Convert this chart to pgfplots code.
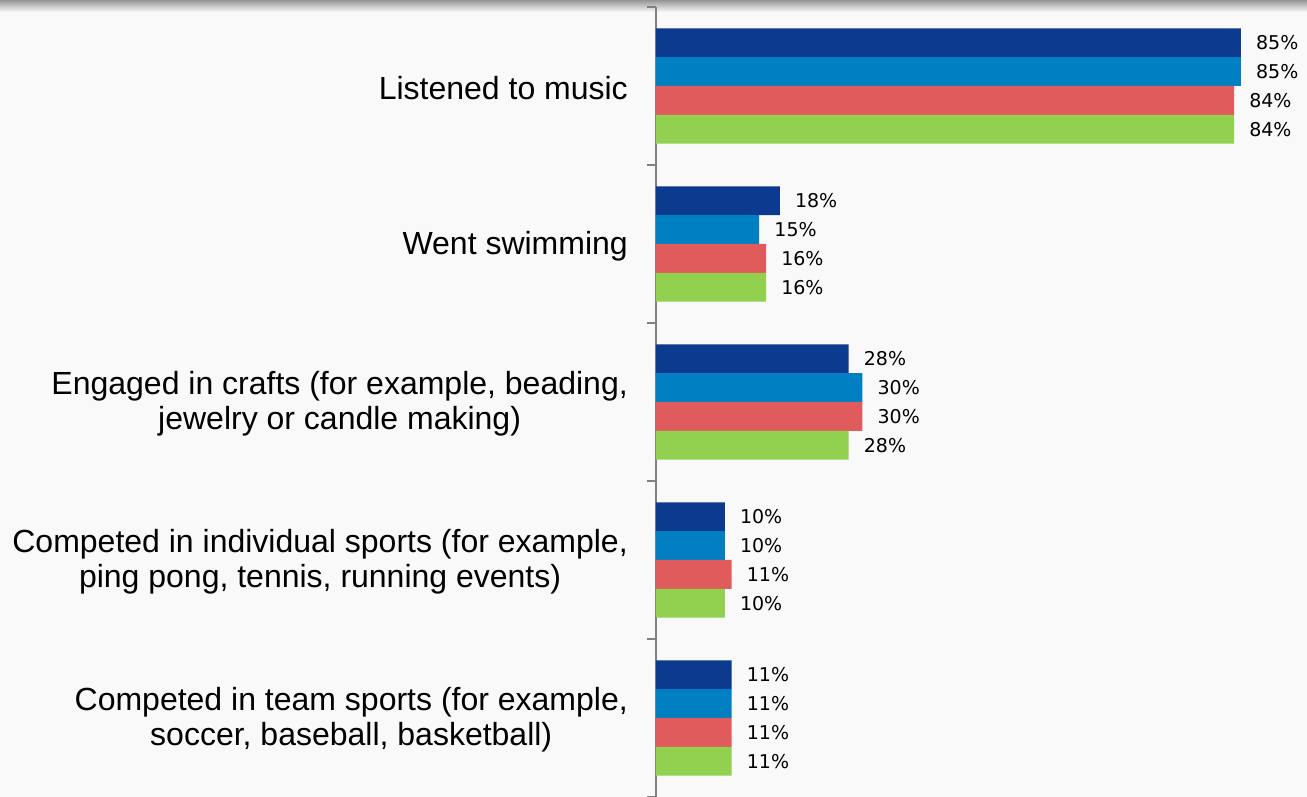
\documentclass[border=0pt]{standalone}
\usepackage{pgfplots}
\pgfplotsset{compat=1.18}
\usepackage{fontspec}
\setmainfont{Liberation Sans}
\newfontfamily\dejavu{DejaVu Sans}
\definecolor{cdark}{RGB}{11,58,143}
\definecolor{cblue}{RGB}{0,128,195}
\definecolor{cred}{RGB}{224,91,91}
\definecolor{cgreen}{RGB}{146,208,80}
\definecolor{bg}{RGB}{249,249,249}
\definecolor{axgray}{RGB}{128,128,128}
\begin{document}
\begin{tikzpicture}
\path[use as bounding box, fill=bg] (0pt,0pt) rectangle (1307pt,797pt);
\shade[top color={rgb,255:red,150;green,150;blue,150}, bottom color=bg] (0pt,785pt) rectangle (1307pt,797pt);
\begin{axis}[
  at={(656pt,0pt)}, anchor=south west,
  scale only axis, width=651pt, height=790pt,
  xbar, bar width=0.182, 
  xmin=0, xmax=94.6, ymin=-0.5, ymax=4.5,
  axis x line=none, axis y line*=left,
  y axis line style={draw=axgray, line width=2pt},
  xtick=\empty,
  ytick={0,1,2,3,4},
  yticklabels={{Competed in team sports (for example,\\soccer, baseball, basketball)},
               {Competed in individual sports (for example,\\ping pong, tennis, running events)},
               {Engaged in crafts (for example, beading,\\jewelry or candle making)},
               {Went swimming},
               {Listened to music}},
  minor ytick={-0.5,0.5,1.5,2.5,3.5,4.5},
  major tick length=0pt, minor tick length=9pt, tick align=outside,
  tick style={draw=axgray, line width=2pt},
  yticklabel style={font=\fontsize{32}{35}\selectfont, align=center, anchor=east, inner sep=0pt, xshift=-28pt, yshift=-2pt},
  nodes near coords={\pgfmathprintnumber[assume math mode=true]{\pgfplotspointmeta}\%},
  every node near coord/.append style={font=\dejavu\fontsize{19}{22}\selectfont, anchor=west, inner sep=0pt, xshift=15pt, text=black},
  point meta=x,
  clip=false,
]
\addplot[fill=cdark, draw=none, bar shift=0.273] coordinates {(11,0) (10,1) (28,2) (18,3) (85,4)};
\addplot[fill=cblue, draw=none, bar shift=0.091] coordinates {(11,0) (10,1) (30,2) (15,3) (85,4)};
\addplot[fill=cred, draw=none, bar shift=-0.091] coordinates {(11,0) (11,1) (30,2) (16,3) (84,4)};
\addplot[fill=cgreen, draw=none, bar shift=-0.273] coordinates {(11,0) (10,1) (28,2) (16,3) (84,4)};
\end{axis}
\end{tikzpicture}
\end{document}
